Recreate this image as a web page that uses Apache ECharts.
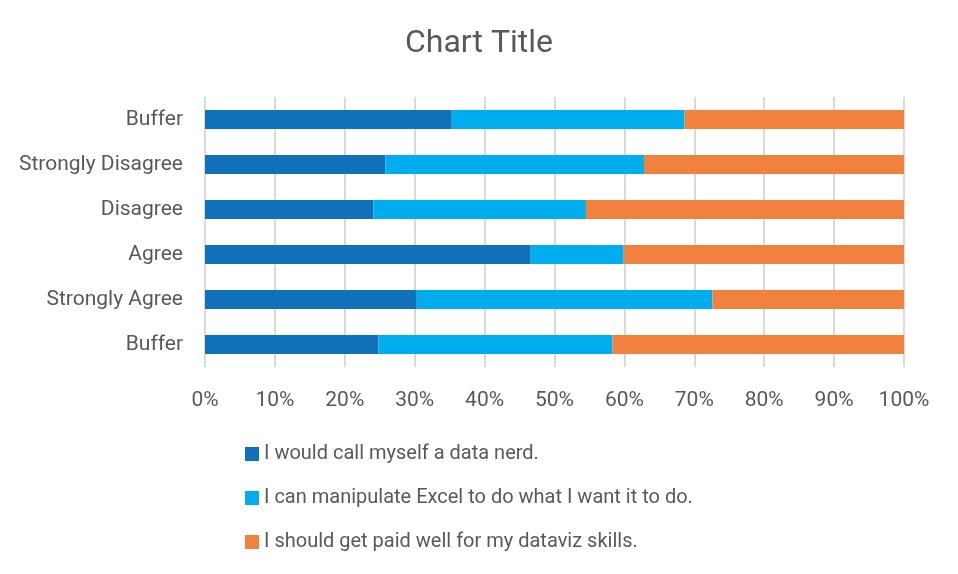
<!DOCTYPE html>
<html>
<head>
<meta charset="utf-8">
<script src="https://cdn.jsdelivr.net/npm/echarts@6/dist/echarts.min.js"></script>
<style>
    html, body { margin: 0; padding: 0; background: #fff; }
    #chart { width: 958px; height: 574px; }
</style>
</head>
<body>
<div id="chart"></div>
<script>
// categories listed bottom to top
const categories = ['Buffer', 'Strongly Agree', 'Agree', 'Disagree', 'Strongly Disagree', 'Buffer'];
const seriesNames = [
    'I would call myself a data nerd.',
    'I can manipulate Excel to do what I want it to do.',
    'I should get paid well for my dataviz skills.'
];
const dataNerd = [24.8, 30.3, 46.6, 24.1, 25.8, 35.3];
const excelSkill = [33.5, 42.3, 13.3, 30.4, 37.0, 33.3];
const paidWell = [41.7, 27.4, 40.1, 45.5, 37.2, 31.4];
const tickLabels = ['0%', '10%', '20%', '30%', '40%', '50%', '60%', '70%', '80%', '90%', '100%'];

(function () {
    const myChart = echarts.init(document.getElementById('chart'));
    const textColor = '#595959';
    const font = 'Roboto';

    const values = [dataNerd, excelSkill, paidWell];
    const colors = ['#1071ba', '#00aeef', '#f0813f'];

    const option = {
        animation: false,
        color: colors,
        title: {
            text: 'Chart Title',
            left: 'center',
            top: 23,
            textStyle: {
                color: textColor,
                fontFamily: font,
                fontWeight: 'normal',
                fontSize: 32
            }
        },
        legend: {
            orient: 'vertical',
            left: 240,
            top: 439,
            itemGap: 24,
            itemWidth: 14,
            itemHeight: 14,
            icon: 'rect',
            textStyle: {
                color: textColor,
                fontFamily: font,
                fontSize: 20
            },
            data: seriesNames
        },
        grid: {
            left: 205,
            right: 54,
            top: 97,
            height: 270,
            containLabel: false
        },
        xAxis: {
            type: 'value',
            min: 0,
            max: 100,
            interval: 10,
            axisLine: { show: false },
            axisTick: { show: false },
            splitLine: {
                lineStyle: { color: '#d9d9d9', width: 2 }
            },
            axisLabel: {
                margin: 23,
                color: textColor,
                fontFamily: font,
                fontSize: 21,
                formatter: function (v) { return tickLabels[Math.round(v / 10)]; }
            }
        },
        yAxis: {
            type: 'category',
            data: categories,
            axisLine: { show: false },
            axisTick: { show: false },
            axisLabel: {
                margin: 22,
                color: textColor,
                fontFamily: font,
                fontSize: 21
            }
        },
        series: seriesNames.map(function (name, i) {
            return {
                name: name,
                type: 'bar',
                stack: 'total',
                barWidth: 19,
                data: values[i]
            };
        })
    };

    myChart.setOption(option);
    window.addEventListener('resize', function () {
        myChart.resize();
    });
})();
</script>
</body>
</html>
